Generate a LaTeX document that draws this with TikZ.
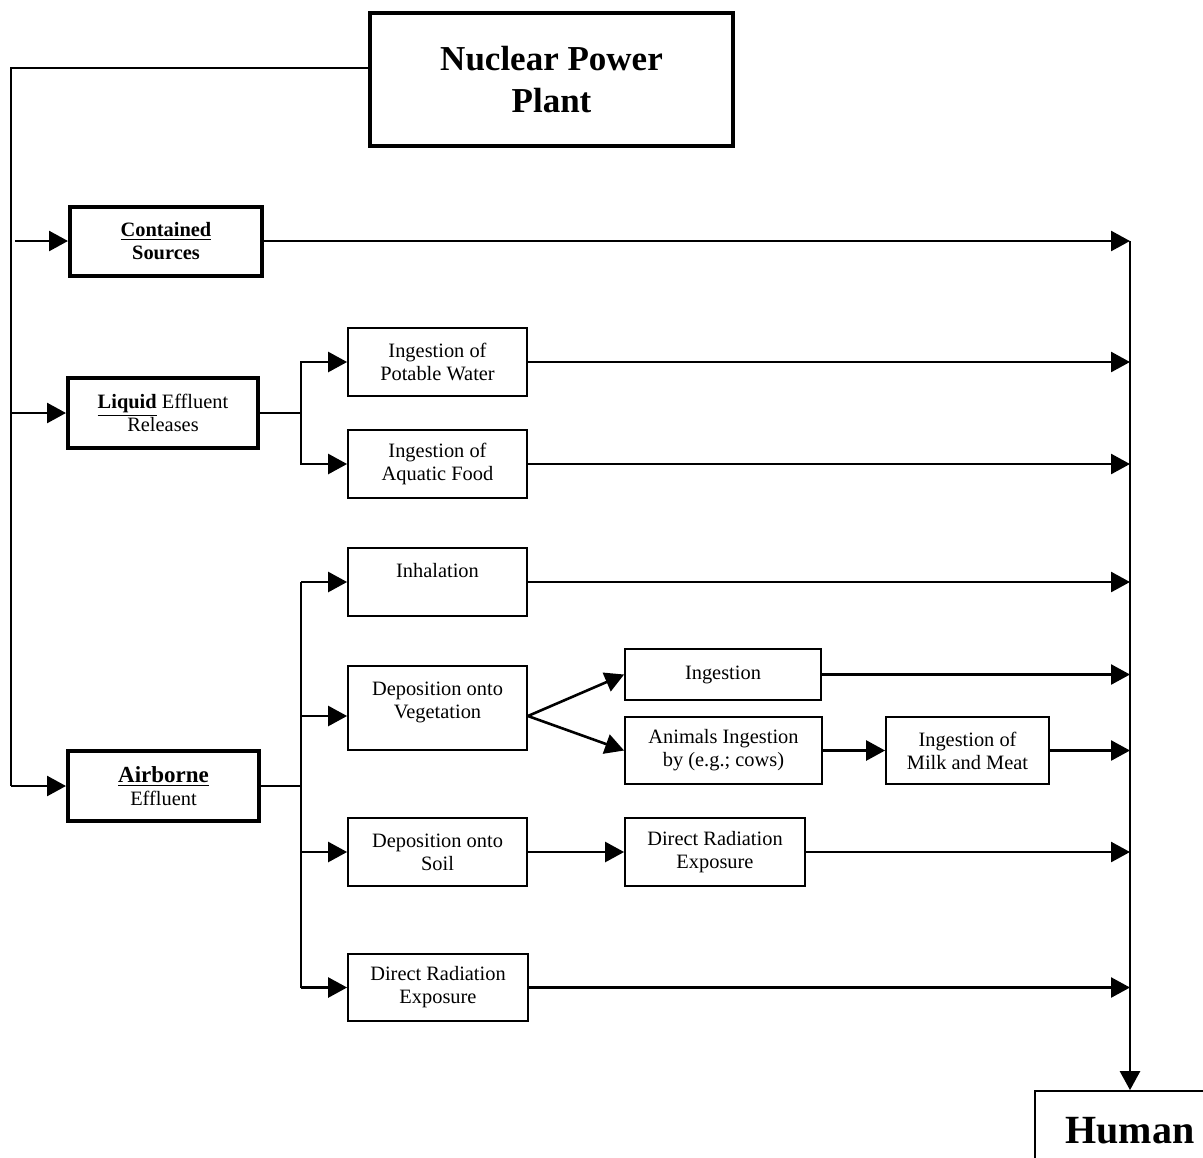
\documentclass[tikz,border=0pt]{standalone}
\usepackage{fontspec}
\setmainfont{Liberation Serif}
\usetikzlibrary{arrows.meta}
\tikzset{
  box/.style={draw,line width=0.9pt,align=center,inner sep=0pt,font=\fontsize{10.2}{11.5}\selectfont},
  srcbox/.style={box,line width=2pt},
  conn/.style={line width=1.3pt},
  flow/.style={conn,-{Triangle[length=9.5pt,width=10pt]}}
}
\begin{document}
\begin{tikzpicture}[x=0.5pt,y=-0.5pt]
\useasboundingbox (0,0) rectangle (1203,1157);
\begin{scope}
\node[srcbox,line width=2.2pt,minimum width=181.5pt,minimum height=66.5pt,font=\fontsize{17.5}{21}\selectfont\bfseries] (npp) at (551.5,79.5) {Nuclear Power\\Plant};
\node[srcbox,minimum width=96pt,minimum height=34.5pt] (cont) at (166,241) {\textbf{\underline{Contained}}\\\textbf{Sources}};
\node[srcbox,minimum width=95pt,minimum height=35pt] (liq) at (163,413) {\textbf{\underline{Liquid}} Effluent\\Releases};
\node[srcbox,minimum width=95.5pt,minimum height=35pt] (air) at (163.5,786) {{\fontsize{11.5}{11.5}\selectfont\textbf{\underline{Airborne}}}\\Effluent};
\node[box,minimum width=89.5pt,minimum height=34pt] (pot) at (437.5,362) {Ingestion of\\Potable Water};
\node[box,minimum width=89.5pt,minimum height=34pt] (aqu) at (437.5,464) {Ingestion of\\Aquatic Food};
\node[box,minimum width=89.5pt,minimum height=34pt] (inh) at (437.5,582) {Inhalation\\\mbox{}};
\node[box,minimum width=89.5pt,minimum height=42pt] (veg) at (437.5,708) {Deposition onto\\Vegetation\\[-3.5pt]\mbox{}};
\node[box,minimum width=89.5pt,minimum height=34pt] (soil) at (437.5,852) {Deposition onto\\Soil};
\node[box,minimum width=90pt,minimum height=33.5pt] (dir1) at (438,987.5) {Direct Radiation\\Exposure};
\node[box,minimum width=98pt,minimum height=25.5pt] (ing) at (723,674.5) {Ingestion};
\node[box,minimum width=98.5pt,minimum height=33.5pt] (ani) at (723.5,750.5) {Animals Ingestion\\by (e.g.; cows)};
\node[box,minimum width=81.5pt,minimum height=33.5pt] (milk) at (967.5,750.5) {Ingestion of\\Milk and Meat};
\node[box,minimum width=90pt,minimum height=34pt] (dir2) at (715,852) {Direct Radiation\\Exposure};
\node[box,minimum width=95pt,minimum height=40pt,font=\fontsize{20}{24}\selectfont\bfseries] (human) at (1130,1131) {Human};
\coordinate (trunk) at (11,68);
\end{scope}
\begin{scope}
\draw[conn] ([yshift=5.75pt]npp.west) -- (trunk) -- (trunk |- air.west);
\draw[flow] ([xshift=2pt]trunk |- cont.west) -- (cont.west);
\draw[flow] (trunk |- liq.west) -- (liq.west);
\draw[flow] (trunk |- air.west) -- (air.west);
\draw[conn] (liq.east) -- ++(41,0) coordinate (lqb);
\draw[flow] (lqb) |- (pot.west);
\draw[flow] (lqb) |- (aqu.west);
\draw[conn] (air.east) -- ++(40,0) coordinate (arb);
\draw[conn] (arb |- inh.west) -- (arb |- dir1.west);
\draw[flow] (arb |- inh.west) -- (inh.west);
\draw[flow] (arb |- veg.west) ++(0,8) -- ([yshift=-4pt]veg.west);
\draw[flow] (arb |- soil.west) -- (soil.west);
\draw[flow] (arb |- dir1.west) -- (dir1.west);
\draw[flow] ([yshift=-4pt]veg.east) -- (ing.west);
\draw[flow] ([yshift=-4pt]veg.east) -- (ani.west);
\draw[flow] (ani.east) -- (milk.west);
\draw[flow] (soil.east) -- (dir2.west);
\draw[flow] (cont.east) -- (cont.east -| human.north);
\draw[flow] (pot.east) -- (pot.east -| human.north);
\draw[flow] (aqu.east) -- (aqu.east -| human.north);
\draw[flow] (inh.east) -- (inh.east -| human.north);
\draw[flow] (ing.east) -- (ing.east -| human.north);
\draw[flow] (milk.east) -- (milk.east -| human.north);
\draw[flow] (dir2.east) -- (dir2.east -| human.north);
\draw[flow] (dir1.east) -- (dir1.east -| human.north);
\draw[flow] (cont.east -| human.north) -- (human.north);
\end{scope}
\end{tikzpicture}
\end{document}
